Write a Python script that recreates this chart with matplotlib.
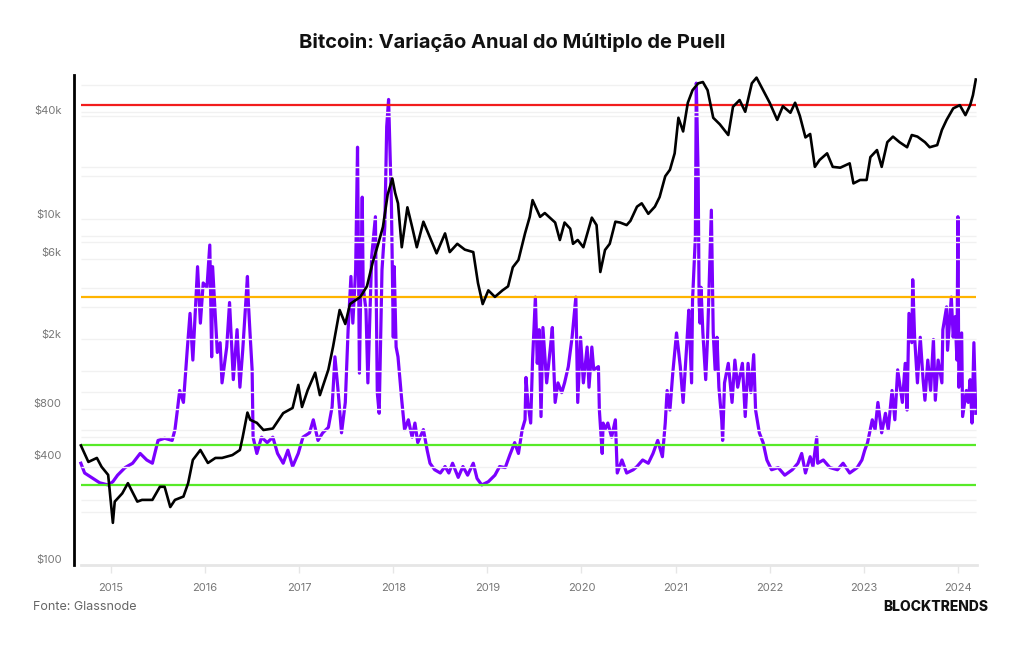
import matplotlib
matplotlib.use("Agg")
import matplotlib.pyplot as plt
from matplotlib.ticker import FixedLocator, NullLocator

# --- data ---
# bitcoin price (USD), decimal years
btc_years = [2014.68, 2014.76, 2014.85, 2014.90, 2014.97, 2015.02, 2015.04, 2015.12, 2015.18, 2015.28,
             2015.33, 2015.44, 2015.52, 2015.57, 2015.63, 2015.68, 2015.77, 2015.82, 2015.87, 2015.95,
             2016.03, 2016.11, 2016.18, 2016.29, 2016.37, 2016.40, 2016.45, 2016.48, 2016.55, 2016.62,
             2016.72, 2016.83, 2016.93, 2016.99, 2017.03, 2017.09, 2017.17, 2017.22, 2017.31, 2017.36,
             2017.43, 2017.49, 2017.54, 2017.65, 2017.72, 2017.78, 2017.84, 2017.89, 2017.94, 2017.99,
             2018.02, 2018.05, 2018.09, 2018.15, 2018.20, 2018.25, 2018.32, 2018.39, 2018.46, 2018.55,
             2018.60, 2018.68, 2018.76, 2018.85, 2018.90, 2018.95, 2019.01, 2019.08, 2019.16, 2019.22,
             2019.27, 2019.33, 2019.40, 2019.45, 2019.48, 2019.56, 2019.61, 2019.72, 2019.77, 2019.82,
             2019.88, 2019.91, 2019.96, 2020.02, 2020.11, 2020.16, 2020.20, 2020.25, 2020.30, 2020.36,
             2020.41, 2020.48, 2020.52, 2020.59, 2020.64, 2020.71, 2020.78, 2020.83, 2020.89, 2020.94,
             2020.99, 2021.03, 2021.08, 2021.13, 2021.18, 2021.24, 2021.29, 2021.34, 2021.40, 2021.47,
             2021.56, 2021.61, 2021.68, 2021.74, 2021.81, 2021.86, 2021.93, 2022.00, 2022.08, 2022.14,
             2022.22, 2022.27, 2022.32, 2022.38, 2022.43, 2022.48, 2022.53, 2022.61, 2022.67, 2022.75,
             2022.85, 2022.89, 2022.96, 2023.03, 2023.07, 2023.14, 2023.19, 2023.25, 2023.31, 2023.38,
             2023.46, 2023.51, 2023.57, 2023.65, 2023.70, 2023.78, 2023.83, 2023.88, 2023.95, 2024.02,
             2024.08, 2024.13, 2024.16, 2024.19]
btc_price = [455, 365, 385, 342, 307, 162, 215, 240, 275, 215,
             220, 220, 262, 262, 200, 220, 230, 275, 375, 428,
             360, 385, 385, 400, 428, 510, 705, 640, 615, 559,
             570, 700, 750, 1020, 760, 950, 1200, 890, 1250, 1700,
             2770, 2300, 3000, 3300, 3800, 5200, 6700, 8400, 12900, 16000,
             13200, 11500, 6400, 10900, 8400, 6400, 9000, 7300, 5900, 7700,
             6000, 6700, 6200, 6000, 3970, 3000, 3600, 3300, 3600, 3800,
             4900, 5400, 7700, 9600, 12000, 9600, 10100, 8900, 7050, 8900,
             8200, 6700, 7050, 6400, 9500, 8600, 4600, 6170, 6700, 9000,
             8900, 8600, 9100, 11000, 11500, 10000, 11000, 12500, 16500, 18000,
             22400, 36000, 30000, 44000, 52000, 57000, 58000, 52000, 36000, 33000,
             28600, 41700, 45600, 39000, 57000, 61500, 52000, 44000, 35000, 42000,
             38500, 44000, 37000, 27700, 29000, 18700, 20500, 22400, 18700, 18500,
             19600, 15000, 15700, 15700, 21300, 23400, 18700, 26000, 28000, 26000,
             24300, 28600, 28000, 26000, 24300, 25000, 30600, 35000, 40800, 42600,
             37300, 42600, 48700, 60000]

# puell multiple (right axis, hidden), decimal years
puell_years = [2014.68, 2014.72, 2014.81, 2014.88, 2014.97, 2015.02, 2015.07, 2015.15, 2015.23, 2015.31,
               2015.38, 2015.44, 2015.50, 2015.57, 2015.65, 2015.68, 2015.71, 2015.73, 2015.77, 2015.81,
               2015.84, 2015.87, 2015.92, 2015.95, 2015.98, 2016.02, 2016.05, 2016.07, 2016.08, 2016.13,
               2016.16, 2016.18, 2016.23, 2016.26, 2016.30, 2016.34, 2016.37, 2016.40, 2016.45, 2016.46,
               2016.48, 2016.50, 2016.51, 2016.55, 2016.60, 2016.66, 2016.72, 2016.77, 2016.83, 2016.88,
               2016.93, 2016.99, 2017.04, 2017.11, 2017.15, 2017.20, 2017.25, 2017.31, 2017.35, 2017.38,
               2017.41, 2017.45, 2017.49, 2017.52, 2017.55, 2017.57, 2017.60, 2017.62, 2017.64, 2017.67,
               2017.68, 2017.71, 2017.73, 2017.77, 2017.81, 2017.83, 2017.85, 2017.88, 2017.91, 2017.93,
               2017.95, 2017.98, 2018.00, 2018.01, 2018.03, 2018.05, 2018.09, 2018.12, 2018.16, 2018.20,
               2018.23, 2018.26, 2018.32, 2018.36, 2018.39, 2018.44, 2018.50, 2018.55, 2018.59, 2018.63,
               2018.69, 2018.74, 2018.79, 2018.85, 2018.89, 2018.94, 2019.01, 2019.08, 2019.13, 2019.19,
               2019.24, 2019.29, 2019.33, 2019.37, 2019.40, 2019.41, 2019.43, 2019.46, 2019.48, 2019.51,
               2019.53, 2019.55, 2019.57, 2019.59, 2019.63, 2019.67, 2019.69, 2019.72, 2019.75, 2019.79,
               2019.82, 2019.86, 2019.90, 2019.94, 2019.96, 2019.99, 2020.02, 2020.06, 2020.08, 2020.11,
               2020.13, 2020.18, 2020.19, 2020.22, 2020.23, 2020.25, 2020.28, 2020.32, 2020.36, 2020.38,
               2020.43, 2020.48, 2020.55, 2020.59, 2020.65, 2020.71, 2020.76, 2020.81, 2020.86, 2020.89,
               2020.91, 2020.94, 2020.97, 2021.01, 2021.05, 2021.08, 2021.12, 2021.14, 2021.17, 2021.18,
               2021.21, 2021.22, 2021.24, 2021.25, 2021.26, 2021.27, 2021.29, 2021.32, 2021.34, 2021.38,
               2021.40, 2021.42, 2021.44, 2021.46, 2021.49, 2021.50, 2021.52, 2021.56, 2021.60, 2021.63,
               2021.66, 2021.71, 2021.74, 2021.77, 2021.80, 2021.83, 2021.85, 2021.89, 2021.93, 2021.97,
               2022.02, 2022.09, 2022.16, 2022.24, 2022.30, 2022.34, 2022.38, 2022.43, 2022.46, 2022.50,
               2022.51, 2022.57, 2022.64, 2022.72, 2022.78, 2022.85, 2022.93, 2022.98, 2023.01, 2023.04,
               2023.09, 2023.12, 2023.15, 2023.19, 2023.23, 2023.26, 2023.30, 2023.33, 2023.36, 2023.41,
               2023.44, 2023.46, 2023.48, 2023.51, 2023.52, 2023.54, 2023.57, 2023.60, 2023.63, 2023.65,
               2023.68, 2023.71, 2023.74, 2023.76, 2023.79, 2023.83, 2023.84, 2023.88, 2023.89, 2023.93,
               2023.95, 2023.97, 2023.99, 2024.00, 2024.01, 2024.04, 2024.05, 2024.09, 2024.11, 2024.13,
               2024.15, 2024.17, 2024.19]
puell_values = [0.70, 0.61, 0.56, 0.52, 0.50, 0.53, 0.59, 0.66, 0.70, 0.79,
                0.73, 0.70, 0.91, 0.93, 0.91, 1.01, 1.22, 1.37, 1.26, 1.74,
                2.08, 1.65, 2.51, 1.99, 2.36, 2.32, 2.71, 1.68, 2.51, 1.72,
                1.81, 1.44, 1.77, 2.18, 1.47, 1.93, 1.40, 1.74, 2.42, 2.18,
                1.86, 1.56, 0.94, 0.79, 0.94, 0.89, 0.94, 0.79, 0.70, 0.82,
                0.67, 0.79, 0.94, 0.98, 1.10, 0.91, 0.98, 1.03, 1.22, 1.68,
                1.40, 0.98, 1.26, 1.93, 2.42, 1.99, 2.48, 3.61, 1.53, 3.15,
                2.32, 2.11, 1.44, 2.60, 2.97, 1.35, 1.16, 2.48, 2.88, 3.80,
                4.05, 3.10, 1.86, 2.51, 1.77, 1.68, 1.28, 1.01, 1.10, 0.94,
                1.07, 0.89, 1.01, 0.82, 0.70, 0.64, 0.61, 0.67, 0.61, 0.70,
                0.57, 0.67, 0.59, 0.70, 0.56, 0.50, 0.53, 0.59, 0.67, 0.66,
                0.78, 0.89, 0.79, 1.01, 1.10, 1.49, 1.26, 1.07, 1.65, 2.23,
                1.62, 1.93, 1.13, 1.95, 1.44, 1.77, 1.95, 1.26, 1.44, 1.35,
                1.44, 1.59, 1.86, 2.23, 1.26, 1.86, 1.44, 1.77, 1.40, 1.77,
                1.56, 1.59, 1.19, 0.79, 1.07, 1.01, 1.07, 0.94, 1.10, 0.61,
                0.73, 0.61, 0.64, 0.67, 0.73, 0.70, 0.79, 0.91, 0.76, 1.07,
                1.37, 1.19, 1.53, 1.90, 1.59, 1.26, 1.81, 2.11, 1.44, 2.20,
                2.78, 4.20, 3.34, 2.18, 1.99, 2.32, 1.90, 1.47, 1.86, 3.03,
                1.90, 1.56, 1.86, 1.40, 1.10, 0.91, 1.44, 1.62, 1.26, 1.65,
                1.40, 1.62, 1.13, 1.62, 1.35, 1.70, 1.19, 0.98, 0.89, 0.73,
                0.64, 0.66, 0.59, 0.64, 0.70, 0.79, 0.61, 0.76, 0.67, 0.94,
                0.70, 0.73, 0.66, 0.64, 0.70, 0.61, 0.66, 0.73, 0.82, 0.89,
                1.10, 1.01, 1.26, 0.98, 1.16, 1.01, 1.37, 1.10, 1.56, 1.26,
                1.62, 1.19, 2.08, 1.81, 2.39, 1.86, 1.44, 1.86, 1.47, 1.28,
                1.65, 1.37, 1.84, 1.28, 1.65, 1.44, 1.93, 2.14, 1.74, 2.23,
                1.86, 2.05, 1.65, 2.97, 1.40, 1.90, 1.13, 1.37, 1.26, 1.47,
                1.07, 1.81, 1.16]

# reference levels of the puell multiple
level_red = 4.0
level_orange = 2.23
level_green = [0.87, 0.5]

price_ticks = [100, 400, 800, 2000, 6000, 10000, 40000]
price_labels = ["$100", "$400", "$800", "$2k", "$6k", "$10k", "$40k"]
years = list(range(2015, 2025))
grid_levels = [55700, 39000, 36900, 18700, 16500, 9300, 7400, 6900, 5500, 3700,
               2900, 1880, 1230, 930, 740, 560, 510, 342, 220, 187]

plt.rcParams['font.family'] = ['Inter', 'DejaVu Sans']

fig = plt.figure(figsize=(10.24, 6.45), dpi=100)
ax = fig.add_axes([74 / 1024, 1 - 565 / 645, (977 - 74) / 1024, (565 - 75) / 645])
ax2 = ax.twinx()
ax.set_zorder(ax2.get_zorder() + 1)
ax.patch.set_visible(False)

x0, x1 = btc_years[0], btc_years[-1]

# purple series and reference lines on the hidden axis
ax2.plot(puell_years, puell_values, color="#7b00ff", lw=2.3)
ax2.hlines(level_red, x0, x1, color="#f21d1d", lw=1.6)
ax2.hlines(level_orange, x0, x1, color="#ffb400", lw=1.6)
for g in level_green:
    ax2.hlines(g, x0, x1, color="#57ea28", lw=1.6)
ax2.set_ylim(-0.237, 4.275)
ax2.yaxis.set_major_locator(NullLocator())
for s in ax2.spines.values():
    s.set_visible(False)

# price, log scale
ax.set_yscale("log")
ax.set_ylim(92.3, 63700)
ax.set_xlim(2014.607, 2024.203)
for g in grid_levels:
    ax.hlines(g, x0, x1, color="#f1f1f1", lw=1, zorder=0)
ax.plot(btc_years, btc_price, color="black", lw=1.9, zorder=5)

ax.yaxis.set_major_locator(FixedLocator(price_ticks))
ax.yaxis.set_minor_locator(NullLocator())
ax.set_yticklabels(price_labels)
ax.set_xticks(years)
ax.set_xticklabels([str(y) for y in years])
ax.tick_params(axis="y", length=0, pad=9, labelsize=8, labelcolor="#777777")
ax.tick_params(axis="x", length=6, width=1, color="#e6e6e6", pad=7, labelsize=8, labelcolor="#777777")

for s in ["top", "right"]:
    ax.spines[s].set_visible(False)
ax.spines["left"].set_color("black")
ax.spines["left"].set_linewidth(2)
ax.spines["bottom"].set_color("#e6e6e6")
ax.spines["bottom"].set_linewidth(2)
ax.spines["bottom"].set_bounds(x0, 2024.203)

fig.text(0.5, 1 - 43 / 645, "Bitcoin: Variação Anual do Múltiplo de Puell",
         ha="center", va="center", fontsize=14.5, fontweight="bold", color="#111111")
fig.text(33 / 1024, 1 - 607 / 645, "Fonte: Glassnode", ha="left", va="center",
         fontsize=9, color="#666666")
fig.text(988 / 1024, 1 - 607 / 645, "BLOCKTRENDS", ha="right", va="center",
         fontsize=10, fontweight="heavy", color="#111111")

fig.savefig("out.png", dpi=100, facecolor="white")
